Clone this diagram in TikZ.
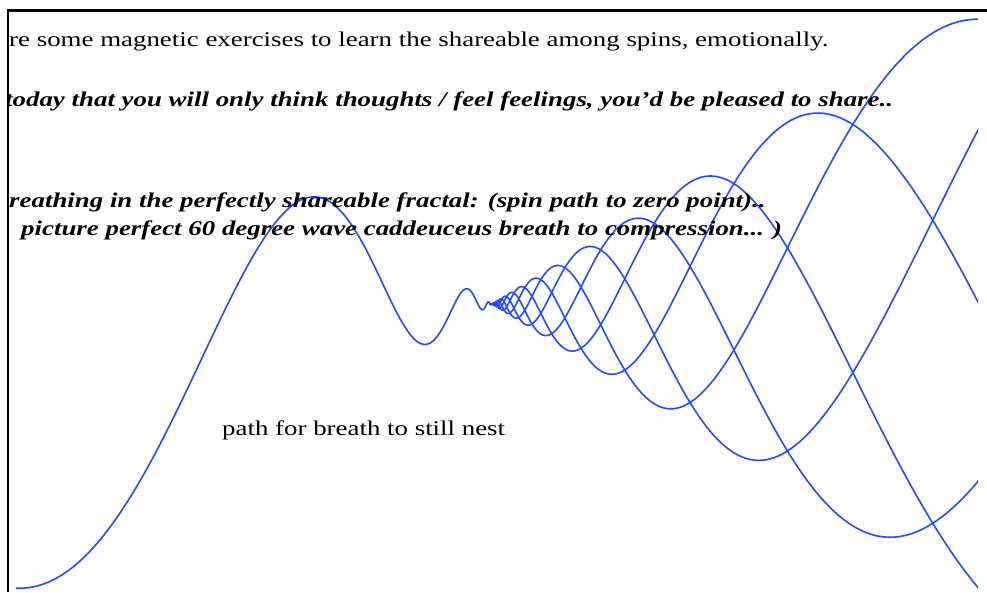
\documentclass[tikz,border=0pt]{standalone}
\usepackage{fontspec}
\setmainfont{Liberation Serif}
\begin{document}
\begin{tikzpicture}[x=1pt,y=-1pt]
\definecolor{wave}{RGB}{35,75,255}
\tikzset{
  wavepath/.style={draw=wave, line width=1.6pt, line join=round},
  frameline/.style={draw=black, line width=2.7pt},
  txt/.style={anchor=base west, inner sep=0pt, font=\fontsize{21}{25}\selectfont},
  bitxt/.style={txt, font=\fontsize{21}{25}\selectfont\bfseries\itshape}
}
\useasboundingbox (0,0) rectangle (987,592);
\fill[white] (0,0) rectangle (987,592);
\coordinate (zero) at (492,304);
\begin{scope}
  \clip (8,11) rectangle (978,592);
  % five waves opening out of the zero point (60 degree cone)
  \foreach \p in {1.293,2.5496,3.8062,5.0628,6.3194}{
    \draw[wavepath] plot[domain=-1.5:6.19, samples=520]
      ({492+exp(\x)}, {304-0.615*exp(\x)*sin(deg(pi*\x+\p))});
  }
  % wave coming in from the left
  \draw[wavepath] plot[domain=-1.5:6.172, samples=520]
    ({492-exp(\x)}, {304-0.63*exp(\x)*sin(deg(3.22*\x+4.034))});
\end{scope}
\begin{scope}
  \clip (8,11) rectangle (987,592);
  \node[txt] (l1) at (9,46.5) {\scalebox{1.28}[1]{re some magnetic exercises to learn the shareable among spins, emotionally.}};
  \node[bitxt] (l2) at (5,106) {\scalebox{1.28}[1]{today that you will only think thoughts / feel feelings, you'd be pleased to share..}};
  \node[bitxt] (l3) at (9,207) {\scalebox{1.28}[1]{reathing in the perfectly shareable fractal: (spin path to zero point)..}};
  \node[bitxt] (l4) at (21,235) {\scalebox{1.28}[1]{picture perfect 60 degree wave caddeuceus breath to compression... )}};
  \node[txt] (l5) at (222,435) {\scalebox{1.28}[1]{path for breath to still nest}};
\end{scope}
\draw[frameline] (8,592) -- (8,10.7) -- (987,10.7);
\end{tikzpicture}
\end{document}
